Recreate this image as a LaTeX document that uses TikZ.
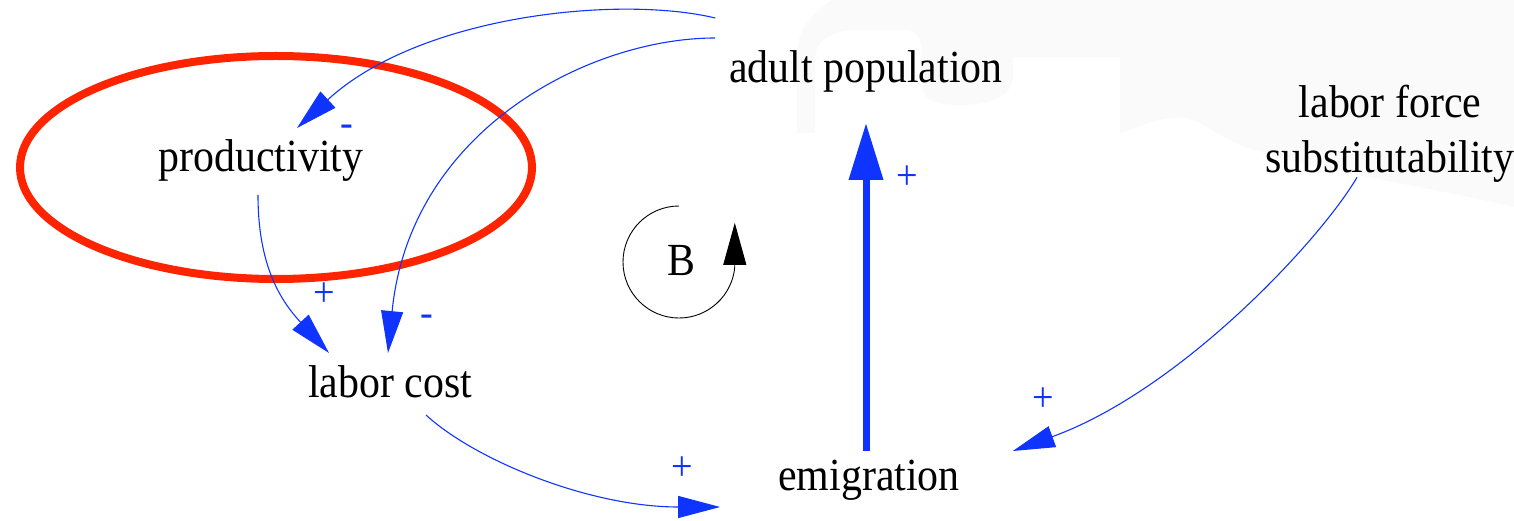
\documentclass[tikz,border=0pt]{standalone}
\usepackage{fontspec}
\setmainfont{Liberation Serif}[FakeStretch=0.91]
\usetikzlibrary{arrows.meta,calc,shapes.geometric}
\definecolor{cldblue}{RGB}{16,52,255}
\definecolor{hlred}{RGB}{255,36,0}
\definecolor{bgblob}{RGB}{250,250,250}
\begin{document}
\begin{tikzpicture}[x=1pt,y=-1pt,
  var/.style={inner sep=0pt, anchor=base, font=\fontsize{46}{55}\selectfont},
  pol/.style={inner sep=0pt, text=cldblue, font=\fontsize{42}{42}\selectfont},
  link/.style={draw=cldblue, line width=1.1pt, -{Triangle[length=42pt,width=22pt]}},
  flowlink/.style={draw=cldblue, line width=7pt, -{Triangle[length=57pt,width=33pt]}},
  loopline/.style={draw=black, line width=0.9pt, -{Triangle[length=42pt,width=23pt]}},
  highlight/.style={draw=hlred, line width=8pt, ellipse, inner sep=0pt, minimum width=512pt, minimum height=223pt}]
\useasboundingbox (0,0) rectangle (1514,521);
% faint background blob
\fill[bgblob] (832,0) .. controls (810,15) and (797,30) .. (797,55) -- (797,133) -- (815,133) -- (815,60)
  .. controls (815,40) and (830,30) .. (860,30) -- (905,30) .. controls (918,30) and (922,40) .. (922,55)
  -- (922,85) .. controls (922,100) and (935,105) .. (960,105) .. controls (995,105) and (1013,95) .. (1013,75)
  -- (1013,57) -- (1120,57) -- (1120,133) .. controls (1145,125) and (1165,115) .. (1185,118)
  .. controls (1205,122) and (1215,135) .. (1240,145) .. controls (1300,168) and (1420,185) .. (1514,207)
  -- (1514,0) -- cycle;
% highlight ellipse
\node[highlight] (hl) at (276,167.5) {};
% variables
\node[var] (adult) at (866,83) {adult population};
\node[var] (prod) at (261,172) {productivity};
\node[var] (cost) at (390,397) {labor cost};
\node[var] (emig) at (869,490) {emigration};
\node[var, anchor=center, align=center] (lfs) at (1390,133.5) {labor force\\substitutability};
\node[var] (B) at (681,276) {B};
% connectors
\draw[link] ($(adult.base west)+(-14,-65)$) .. controls +(-96,-23) and +(123,-113) .. ($(prod.base)+(36,-44)$);
\draw[link] ($(adult.base west)+(-14,-45)$) .. controls +(-126,0) and +(22,-223) .. ($(cost.base)+(-2,-44)$);
\draw[link] ($(prod.base)+(-3,23)$) .. controls +(0,70) and +(-49,-53) .. ($(cost.base)+(-61,-44)$);
\draw[link] ($(cost.base)+(36,18)$) .. controls +(49,45) and +(-131,0) .. ($(emig.base west)+(-58,17)$);
\draw[link] ($(lfs.south)+(-33,-5)$) .. controls +(-37,63) and +(168,-61) .. ($(emig.base east)+(53,-39)$);
\draw[flowlink] ($(emig.base)+(-3,-39)$) -- ($(adult.base)+(0,40)$);
% polarities
\node[pol, anchor=base] (p1) at (347,137) {-};
\node[pol] (p2) at (427,321) {-};
\node[pol] (p3) at (324,295) {+};
\node[pol] (p4) at (682,469) {+};
\node[pol] (p5) at (907,178) {+};
\node[pol] (p6) at (1043,400) {+};
% loop symbol
\draw[loopline] ($(B.center)+(-2,-55)$) arc[start angle=-90, end angle=-355, radius=56] -- ++(0,-44);
\end{tikzpicture}
\end{document}
